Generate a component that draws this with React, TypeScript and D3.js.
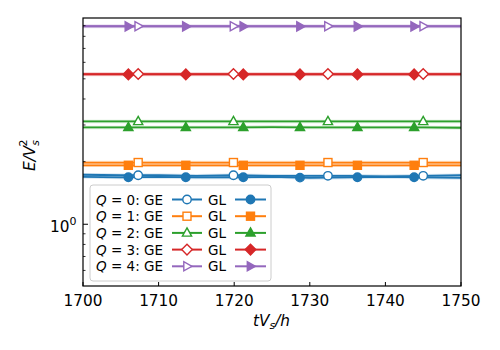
import React from 'react'
import * as d3 from 'd3'

// sample times along the run and read-off energies
const times = [1700, 1705, 1710, 1715, 1720, 1725, 1730, 1735, 1740, 1745, 1750]
const geQ0 = [1.73, 1.72, 1.72, 1.71, 1.72, 1.71, 1.71, 1.71, 1.70, 1.71, 1.72]
const glQ0 = [1.69, 1.68, 1.69, 1.68, 1.68, 1.69, 1.67, 1.68, 1.69, 1.68, 1.67]
const geQ1 = [1.98, 1.98, 1.98, 1.98, 1.98, 1.98, 1.98, 1.98, 1.98, 1.98, 1.98]
const glQ1 = [1.92, 1.92, 1.92, 1.92, 1.92, 1.92, 1.92, 1.92, 1.92, 1.92, 1.92]
const geQ2 = [3.12, 3.12, 3.12, 3.12, 3.12, 3.12, 3.12, 3.12, 3.12, 3.12, 3.12]
const glQ2 = [2.92, 2.92, 2.92, 2.92, 2.92, 2.93, 2.92, 2.92, 2.92, 2.92, 2.91]
const geQ3 = [5.27, 5.27, 5.27, 5.27, 5.27, 5.27, 5.27, 5.27, 5.27, 5.27, 5.27]
const glQ3 = [5.25, 5.25, 5.25, 5.25, 5.25, 5.25, 5.25, 5.25, 5.25, 5.25, 5.25]
const geQ4 = [8.95, 8.95, 8.95, 8.95, 8.95, 8.95, 8.95, 8.95, 8.95, 8.95, 8.95]
const glQ4 = [8.93, 8.93, 8.93, 8.93, 8.93, 8.93, 8.93, 8.93, 8.93, 8.93, 8.93]

const geMarkTimes = [1707.3, 1719.9, 1732.4, 1745.0]
const glMarkTimes = [1706.0, 1713.6, 1721.2, 1728.7, 1736.3, 1743.8]

const qLabels = ['0', '1', '2', '3', '4']
const colors = ['#1f77b4', '#ff7f0e', '#2ca02c', '#d62728', '#9467bd']
const shapes = ['circle', 'square', 'triUp', 'diamond', 'triRight']
const geSeries = [geQ0, geQ1, geQ2, geQ3, geQ4]
const glSeries = [glQ0, glQ1, glQ2, glQ3, glQ4]

const xTicks = [1700, 1710, 1720, 1730, 1740, 1750]
const yMinor = [0.6, 0.7, 0.8, 0.9, 2, 3, 4, 5, 6, 7, 8, 9]

const W = 500, H = 350
const L = 83, R = 461, T = 18, B = 286
const font = 'DejaVu Sans'

const Marker = ({ shape, x, y, color, filled }: any) => {
  const fill = filled ? color : 'white'
  const sw = 1.4
  if (shape === 'circle') return <circle cx={x} cy={y} r={4.2} fill={fill} stroke={color} strokeWidth={sw} />
  if (shape === 'square') return <rect x={x - 4} y={y - 4} width={8} height={8} fill={fill} stroke={color} strokeWidth={sw} />
  let pts: number[][] = []
  if (shape === 'triUp') pts = [[0, -5], [4.6, 3.2], [-4.6, 3.2]]
  if (shape === 'diamond') pts = [[0, -5.3], [5.3, 0], [0, 5.3], [-5.3, 0]]
  if (shape === 'triRight') pts = [[5, 0], [-3.2, -4.6], [-3.2, 4.6]]
  return <polygon points={pts.map(p => `${x + p[0]},${y + p[1]}`).join(' ')} fill={fill} stroke={color} strokeWidth={sw} strokeLinejoin="miter" />
}

export default function App() {
  const x = d3.scaleLinear().domain([1700, 1750]).range([L, R])
  const y = d3.scaleLog().domain([0.505, 9.8]).range([B, T])
  const line = d3.line<number>().x((_, i) => x(times[i])).y(d => y(d))
  const interp = (vals: number[], t: number) => {
    const i = Math.min(d3.bisectRight(times, t) - 1, times.length - 2)
    const f = (t - times[i]) / (times[i + 1] - times[i])
    return vals[i] + f * (vals[i + 1] - vals[i])
  }

  const rowY = (i: number) => 199.5 + i * 16.7

  return (
    <svg width={W} height={H} style={{ position: 'absolute', left: 0, top: 0 }} fontFamily={font}>
      <rect width={W} height={H} fill="white" />
      <defs>
        <clipPath id="plot"><rect x={L} y={T} width={R - L} height={B - T} /></clipPath>
      </defs>
      <g clipPath="url(#plot)">
        {colors.map((c, k) => (
          <g key={k}>
            {[geSeries[k], glSeries[k]].map((s, j) => (
              <g key={j}>
                <path d={line(s) || ''} fill="none" stroke={c} strokeWidth={3.5} strokeOpacity={0.2} />
                <path d={line(s) || ''} fill="none" stroke={c} strokeWidth={1.8} />
              </g>
            ))}
            {glMarkTimes.map((t, i) => (
              <Marker key={'l' + i} shape={shapes[k]} x={x(t)} y={y(interp(glSeries[k], t))} color={c} filled />
            ))}
            {geMarkTimes.map((t, i) => (
              <Marker key={'e' + i} shape={shapes[k]} x={x(t)} y={y(interp(geSeries[k], t))} color={c} filled={false} />
            ))}
          </g>
        ))}
      </g>

      {/* axes box */}
      <rect x={L} y={T} width={R - L} height={B - T} fill="none" stroke="black" strokeWidth={1.2} />
      {xTicks.map(t => (
        <g key={t}>
          <line x1={x(t)} x2={x(t)} y1={B} y2={B - 4} stroke="black" strokeWidth={1} />
          <text x={x(t)} y={B + 20} textAnchor="middle" fontSize={15.3}>{t}</text>
        </g>
      ))}
      <line x1={L} x2={L + 5} y1={y(1)} y2={y(1)} stroke="black" strokeWidth={1} />
      {yMinor.map(v => (
        <line key={v} x1={L} x2={L + 2.5} y1={y(v)} y2={y(v)} stroke="black" strokeWidth={0.8} />
      ))}
      <text x={L - 33} y={y(1) + 8} fontSize={15.3}>10<tspan dy={-7} fontSize={11}>0</tspan></text>

      {/* axis labels */}
      <text x={253} y={326} fontSize={15.3} fontStyle="italic">tV<tspan dy={3} fontSize={11}>s</tspan><tspan dy={-3}>/h</tspan></text>
      <g transform="translate(35,171) rotate(-90)">
        <text x={0} y={0} fontSize={15.3} fontStyle="italic">E/V<tspan dy={4} fontSize={11}>s</tspan><tspan dx={-6.5} dy={-12} fontSize={11} fontStyle="normal">2</tspan></text>
      </g>

      {/* legend */}
      <rect x={90} y={185} width={181} height={96} rx={3} fill="white" fillOpacity={0.8} stroke="#cccccc" strokeWidth={1} />
      {qLabels.map((q, i) => (
        <g key={q}>
          <text x={96} y={rowY(i) + 5} fontSize={13.5}>
            <tspan fontStyle="italic">Q</tspan>
            <tspan> = {q}: GE</tspan>
          </text>
          <line x1={172} x2={202} y1={rowY(i)} y2={rowY(i)} stroke={colors[i]} strokeWidth={2} />
          <Marker shape={shapes[i]} x={187} y={rowY(i)} color={colors[i]} filled={false} />
          <text x={208} y={rowY(i) + 5} fontSize={13.5}>GL</text>
          <line x1={235} x2={266} y1={rowY(i)} y2={rowY(i)} stroke={colors[i]} strokeWidth={2} />
          <Marker shape={shapes[i]} x={250.5} y={rowY(i)} color={colors[i]} filled />
        </g>
      ))}
    </svg>
  )
}
